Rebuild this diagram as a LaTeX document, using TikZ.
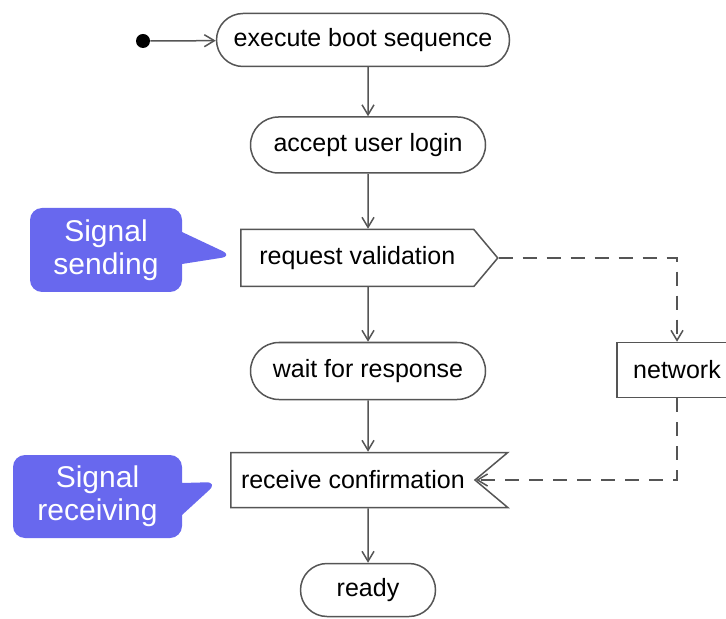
\documentclass[tikz,border=0pt]{standalone}
\usepackage{fontspec}
\setmainfont{Liberation Sans}
\usetikzlibrary{shapes.misc,shapes.symbols,shapes.callouts,arrows.meta}
\definecolor{noteblue}{RGB}{104,104,238}
\definecolor{linegrey}{RGB}{85,85,85}

\begin{document}
\begin{tikzpicture}[x=0.5pt,y=-0.5pt,
        action/.style={rounded rectangle,draw=linegrey,fill=white,
          line width=0.75pt,inner sep=1pt,font=\fontsize{12.5}{14}\selectfont},
        sendsig/.style={signal,signal to=east,signal pointer angle=100,
          draw=linegrey,fill=white,line width=0.75pt,inner sep=1pt,
          font=\fontsize{12.5}{14}\selectfont},
        recvsig/.style={signal,signal to=nowhere,signal from=east,
          signal pointer angle=80,draw=linegrey,fill=white,
          line width=0.75pt,inner sep=1pt,font=\fontsize{12.5}{14}\selectfont},
        flow/.style={draw=linegrey,line width=0.75pt,
          -{Straight Barb[length=5pt,width=6pt]}},
        msg/.style={flow,dash pattern=on 7pt off 5pt},
        note/.style={rectangle callout,rounded corners=6pt,fill=noteblue,
          text=white,align=center,inner sep=1pt,callout pointer width=16pt,
          font=\fontsize{15}{16.5}\selectfont}]
        \useasboundingbox (0,0) rectangle (726,619);
        % Activity nodes down the main column.
        \node[circle,fill=black,minimum size=7pt,inner sep=0pt] (start) at (143,41) {};
        \node[action,minimum width=148.5pt,minimum height=26.5pt] (boot) at (363,40) {execute boot sequence};
        \node[action,minimum width=119.5pt,minimum height=28pt] (login) at (368,145) {accept user login};
        \node[sendsig,anchor=west,minimum width=128.5pt,minimum height=28.5pt] (request) at (240,258) {request validation\hspace{12pt}};
        \node[action,minimum width=119.5pt,minimum height=28.5pt] (wait) at (368,371) {wait for response};
        \node[draw=linegrey,fill=white,line width=0.75pt,minimum width=60pt,minimum height=27.5pt,
          font=\fontsize{12.5}{14}\selectfont] (network) at (677,370) {network};
        \node[recvsig,anchor=west,minimum width=138.5pt,minimum height=27.5pt] (receive) at (230,480) {receive confirmation\hspace{14pt}};
        \node[action,minimum width=69.5pt,minimum height=26.5pt] (ready) at (368,590) {ready};
        % Notes pointing at the signal shapes.
        \node[note,minimum width=76pt,minimum height=42pt,
          callout absolute pointer={(233,256)}] (sendnote) at (106,250) {Signal\\sending};
        \node[note,minimum width=84.5pt,minimum height=41.5pt,
          callout absolute pointer={(218,482)}] (recvnote) at (97.5,496.5) {Signal\\receiving};
        % Control flow.
        \draw[flow] (start) -- (boot);
        \draw[flow] (login |- boot.south) -- (login);
        \draw[flow] (login) -- (login |- request.north);
        \draw[flow] (login |- request.south) -- (wait);
        \draw[flow] (wait) -- (wait |- receive.north);
        \draw[flow] (wait |- receive.south) -- (ready);
        % Message flow through the network.
        \draw[msg] (request.east) -| (network.north);
        \draw[msg] (network.south) |- (receive.east);
\end{tikzpicture}
\end{document}
